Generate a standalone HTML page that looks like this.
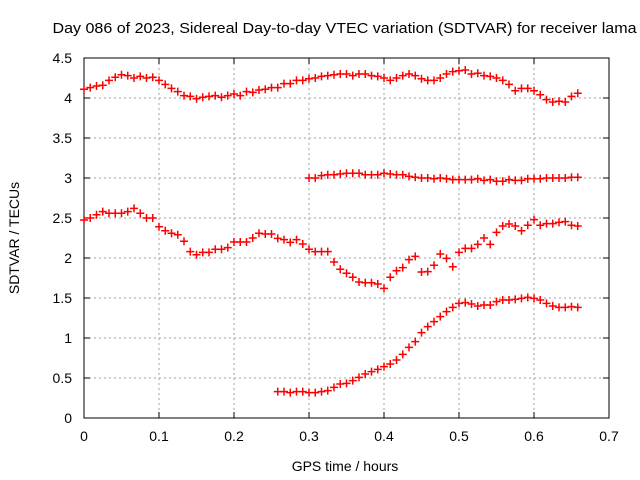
<!DOCTYPE html>
<html><head><meta charset="utf-8"><style>
body{margin:0;background:#fff}
svg{display:block;font-family:"Liberation Sans",sans-serif}
</style></head><body>
<svg id="chart" width="640" height="480">
<rect x="0" y="0" width="640" height="480" fill="#fff"/>
<text x="344.5" y="33" font-size="15" text-anchor="middle" textLength="584" lengthAdjust="spacingAndGlyphs">Day 086 of 2023, Sidereal Day-to-day VTEC variation (SDTVAR) for receiver lama</text>
<g id="grid"></g>
<g id="axes"></g>
<g id="marks"></g>
<text x="345" y="471" font-size="14" text-anchor="middle">GPS time / hours</text>
<text x="19" y="238" font-size="14" text-anchor="middle" transform="rotate(-90 19 238)">SDTVAR / TECUs</text>
</svg>
<script>
const xTicks=[0,0.1,0.2,0.3,0.4,0.5,0.6,0.7];
const xTickLabels=["0","0.1","0.2","0.3","0.4","0.5","0.6","0.7"];
const yTicks=[0,0.5,1,1.5,2,2.5,3,3.5,4,4.5];
const yTickLabels=["0","0.5","1","1.5","2","2.5","3","3.5","4","4.5"];
const step=1/120;
const seriesA=[4.11,4.13,4.15,4.16,4.22,4.26,4.29,4.28,4.25,4.27,4.25,4.26,4.22,4.17,4.12,4.08,4.03,4.02,3.99,4.01,4.02,4.03,4.01,4.03,4.05,4.03,4.08,4.07,4.10,4.11,4.13,4.13,4.18,4.18,4.22,4.22,4.24,4.25,4.27,4.28,4.29,4.30,4.30,4.28,4.30,4.30,4.28,4.27,4.25,4.22,4.25,4.28,4.30,4.28,4.24,4.22,4.22,4.25,4.30,4.33,4.34,4.35,4.30,4.31,4.28,4.27,4.25,4.22,4.17,4.09,4.12,4.12,4.09,4.04,3.98,3.95,3.96,3.95,4.02,4.06];
const seriesBStart=36;
const seriesB=[3.0,3.0,3.03,3.04,3.04,3.05,3.06,3.06,3.06,3.04,3.04,3.04,3.06,3.05,3.04,3.04,3.02,3.01,3.0,3.0,2.99,3.0,2.99,2.98,2.98,2.98,2.98,2.99,2.97,2.98,2.96,2.96,2.98,2.97,2.97,2.99,2.99,2.99,3.0,3.0,3.0,3.0,3.01,3.01];
const seriesC=[2.475,2.5,2.54,2.58,2.56,2.56,2.56,2.58,2.62,2.56,2.50,2.50,2.39,2.34,2.31,2.29,2.21,2.08,2.04,2.07,2.07,2.11,2.11,2.13,2.20,2.20,2.20,2.25,2.31,2.30,2.30,2.245,2.23,2.195,2.23,2.175,2.11,2.08,2.08,2.08,1.95,1.86,1.81,1.76,1.70,1.69,1.69,1.675,1.62,1.76,1.84,1.88,1.98,2.02,1.825,1.83,1.91,2.05,1.995,1.89,2.07,2.12,2.12,2.17,2.25,2.17,2.32,2.40,2.425,2.40,2.34,2.41,2.48,2.41,2.43,2.43,2.445,2.455,2.41,2.40];
const seriesDStart=31;
const seriesD=[0.33,0.33,0.317,0.33,0.33,0.317,0.317,0.33,0.342,0.383,0.425,0.433,0.467,0.508,0.55,0.579,0.608,0.642,0.675,0.725,0.796,0.883,0.954,1.067,1.142,1.204,1.267,1.329,1.383,1.433,1.442,1.425,1.40,1.413,1.413,1.454,1.475,1.475,1.483,1.496,1.508,1.496,1.475,1.433,1.40,1.383,1.383,1.392,1.383];
const X0=84,X1=609,Y0=418,Y1=58;
const sx=v=>X0+(v-0)/(0.7-0)*(X1-X0);
const sy=v=>Y0-(v-0)/(4.5-0)*(Y0-Y1);
const NS="http://www.w3.org/2000/svg";
function mk(tag,attrs,parent){const e=document.createElementNS(NS,tag);for(const k in attrs)e.setAttribute(k,attrs[k]);parent.appendChild(e);return e;}
const grid=document.getElementById('grid'),axes=document.getElementById('axes'),marks=document.getElementById('marks');
xTicks.forEach((t,i)=>{
  const x=sx(t);
  if(i>0&&i<xTicks.length-1){const g=mk('line',{x1:x,x2:x,y1:Y1,y2:Y0,stroke:'#a0a0a0','stroke-dasharray':'2,3'},grid);
  
  }
  mk('line',{x1:x,x2:x,y1:Y0,y2:Y0-6,stroke:'#000'},axes);
  mk('line',{x1:x,x2:x,y1:Y1,y2:Y1+6,stroke:'#000'},axes);
  const l=mk('text',{x:x,y:441,'font-size':14,'text-anchor':'middle'},axes);l.textContent=xTickLabels[i];
  
  
});
yTicks.forEach((t,i)=>{
  const y=sy(t);
  if(i>0&&i<yTicks.length-1){const g=mk('line',{x1:X0,x2:X1,y1:y,y2:y,stroke:'#a0a0a0','stroke-dasharray':'2,3'},grid);
  
  }
  mk('line',{x1:X0,x2:X0+6,y1:y,y2:y,stroke:'#000'},axes);
  mk('line',{x1:X1,x2:X1-6,y1:y,y2:y,stroke:'#000'},axes);
  const l=mk('text',{x:72,y:y+5,'font-size':14,'text-anchor':'end'},axes);l.textContent=yTickLabels[i];
  
  
});
const fr=mk('rect',{x:X0,y:Y1,width:X1-X0,height:Y0-Y1,fill:'none',stroke:'#000'},axes);


function plot(arr,start,name){
  const g=mk('g',{},marks);
  
  
  arr.forEach((v,i)=>{
    const x=sx((start+i)*step),y=sy(v);
    const p=mk('path',{d:`M${x-4} ${y}H${x+4}M${x} ${y-4}V${y+4}`,stroke:'#f00','stroke-width':1.5,fill:'none'},g);
    
    
  });
}
plot(seriesA,0,'series-a');
plot(seriesB,seriesBStart,'series-b');
plot(seriesC,0,'series-c');
plot(seriesD,seriesDStart,'series-d');
</script>
</body></html>
